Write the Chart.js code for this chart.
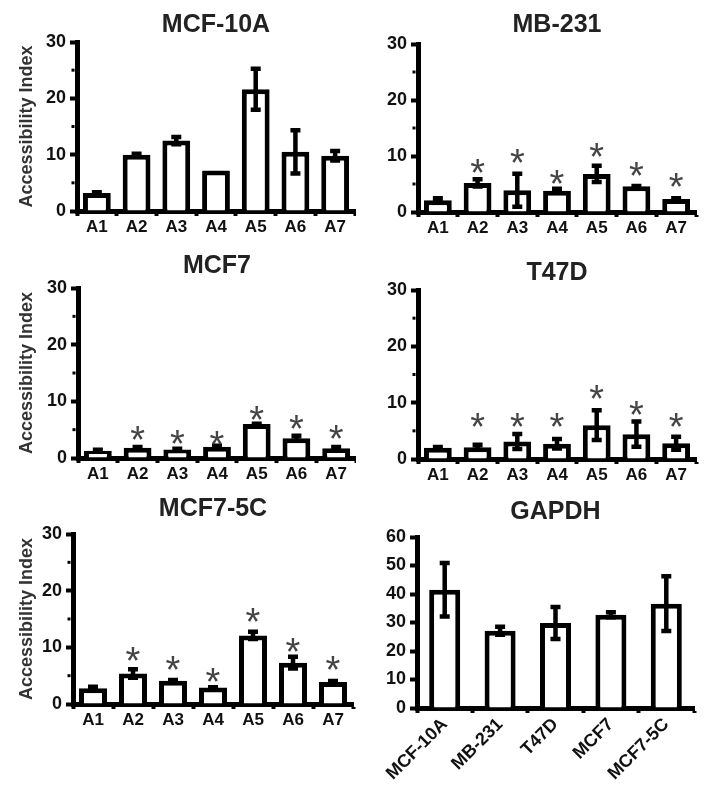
<!DOCTYPE html>
<html>
<head>
<meta charset="utf-8">
<script src="https://cdn.jsdelivr.net/npm/chart.js@4.4.0/dist/chart.umd.min.js"></script>
<style>
  body { margin: 0; background: #fff; }
  #wrap { position: relative; width: 712px; height: 797px; }
  #wrap canvas { position: absolute; }
</style>
</head>
<body>
<div id="wrap"></div>
<script>
// categories
const sites = ['A1', 'A2', 'A3', 'A4', 'A5', 'A6', 'A7'];
const cellLines = ['MCF-10A', 'MB-231', 'T47D', 'MCF7', 'MCF7-5C'];

// accessibility index, mean / error / asterisk height (null = no asterisk)
const mcf10aMean = [3.2, 10.0, 12.5, 7.2, 21.6, 10.5, 9.8];
const mcf10aErr  = [0.5, 0.2, 1.0, 0, 4.0, 4.2, 1.2];
const mcf10aStar = [null, null, null, null, null, null, null];

const mb231Mean = [2.1, 5.2, 3.9, 3.8, 6.8, 4.6, 2.3];
const mb231Err  = [0.7, 1.0, 3.3, 0.7, 1.8, 0.4, 0.2];
const mb231Star = [null, 8.3, 10.0, 6.2, 11.0, 7.7, 5.7];

const mcf7Mean = [1.3, 1.8, 1.5, 2.0, 6.0, 3.5, 1.7];
const mcf7Err  = [0.2, 0.5, 0.2, 0.2, 0.4, 0.8, 0.1];
const mcf7Star = [null, 4.5, 3.7, 3.6, 7.9, 6.4, 4.6];

const t47dMean = [2.0, 2.1, 3.1, 2.7, 6.0, 4.4, 2.8];
const t47dErr  = [0.5, 0.8, 1.7, 1.2, 3.0, 2.6, 1.5];
const t47dStar = [null, 7.0, 7.0, 7.0, 11.9, 9.1, 7.0];

const mcf75cMean = [2.8, 5.4, 4.1, 2.9, 12.1, 7.3, 3.9];
const mcf75cErr  = [0.6, 1.1, 0.5, 0.4, 1.0, 1.4, 0.5];
const mcf75cStar = [null, 8.9, 7.2, 5.1, 15.7, 10.4, 7.2];

const gapdhMean = [41.5, 27.1, 29.8, 32.7, 36.6];
const gapdhErr  = [10.1, 2.1, 6.3, 1.6, 10.3];

const siteMax = 30;
const gapdhMax = 60;

Chart.defaults.font.family = '"Liberation Sans", Arial, sans-serif';

// error bars, asterisks and short minor ticks on the y axis
function marks(mean, err, star) {
  return {
    id: 'marks',
    afterDatasetsDraw(chart) {
      const ctx = chart.ctx, y = chart.scales.y, bars = chart.getDatasetMeta(0).data;
      ctx.save();
      ctx.strokeStyle = '#000';
      ctx.lineWidth = 4.5;
      mean.forEach((m, i) => {
        if (!err[i]) return;
        const x = bars[i].x;
        const t = y.getPixelForValue(m + err[i]);
        const b = y.getPixelForValue(m - err[i]);
        ctx.beginPath();
        ctx.moveTo(x, t); ctx.lineTo(x, b);
        ctx.moveTo(x - 5, t + 2); ctx.lineTo(x + 5, t + 2);
        ctx.moveTo(x - 5, b - 2); ctx.lineTo(x + 5, b - 2);
        ctx.stroke();
      });
      if (star) {
        ctx.fillStyle = '#444';
        ctx.font = '38px "Liberation Sans", Arial, sans-serif';
        ctx.textAlign = 'center';
        ctx.textBaseline = 'alphabetic';
        const mt = ctx.measureText('*');
        const off = (mt.actualBoundingBoxAscent - mt.actualBoundingBoxDescent) / 2;
        star.forEach((s, i) => {
          if (s == null) return;
          ctx.fillText('*', bars[i].x, y.getPixelForValue(s) + off);
        });
      }
      // minor ticks
      ctx.lineWidth = 3;
      const edge = chart.chartArea.left - 2.5;
      y.ticks.forEach(tk => {
        if (tk.value % 10 === 0) return;
        const py = y.getPixelForValue(tk.value);
        ctx.beginPath();
        ctx.moveTo(edge - 3, py); ctx.lineTo(edge, py);
        ctx.stroke();
      });
      ctx.restore();
    }
  };
}

function panel(p) {
  const cv = document.createElement('canvas');
  cv.width = p.box.w; cv.height = p.box.h;
  cv.style.left = p.box.x + 'px'; cv.style.top = p.box.y + 'px';
  document.getElementById('wrap').appendChild(cv);

  const titleH = 25 * 1.2;
  const pTop = p.titleY - p.box.y - titleH / 2;
  const pBot = p.area.t - p.box.y - pTop - titleH;
  const yW = p.area.l - p.box.x;
  const xH = p.box.y + p.box.h - p.area.b;

  new Chart(cv, {
    type: 'bar',
    data: {
      labels: p.labels,
      datasets: [{
        data: p.mean,
        backgroundColor: '#fff',
        borderColor: '#000',
        borderWidth: 5,
        borderSkipped: 'start',
        barPercentage: p.barPct,
        categoryPercentage: 1
      }]
    },
    options: {
      responsive: false,
      animation: false,
      devicePixelRatio: 1,
      layout: { padding: { left: 0, top: 0, bottom: 0, right: p.box.x + p.box.w - p.area.r } },
      plugins: {
        legend: { display: false },
        tooltip: { enabled: false },
        title: {
          display: true,
          text: p.title,
          fullSize: false,
          color: '#222',
          font: { size: 25, weight: 'bold', lineHeight: 1.2 },
          padding: { top: pTop, bottom: pBot }
        }
      },
      scales: {
        x: {
          afterFit: s => { s.height = xH; },
          border: { width: 5, color: '#000' },
          grid: { drawOnChartArea: false, offset: true, tickLength: 5, tickWidth: 4, tickColor: '#000' },
          ticks: {
            padding: 1, color: '#111', autoSkip: false,
            maxRotation: p.rot, minRotation: p.rot,
            font: { size: p.rot ? 18 : 17, weight: 'bold' }
          }
        },
        y: {
          min: 0,
          max: p.yMax,
          afterFit: s => { s.width = yW; },
          border: { width: 5, color: '#000' },
          grid: {
            drawOnChartArea: false, tickLength: 7, tickWidth: 4,
            tickColor: c => (c.tick && c.tick.value % 10 === 0) ? '#000' : 'rgba(0,0,0,0)'
          },
          ticks: {
            stepSize: 5, padding: 4, color: '#111',
            font: { size: 18, weight: 'bold' },
            callback: v => (v % 10 === 0 ? v : '')
          },
          title: {
            display: p.yTitle,
            text: 'Accessibility Index',
            color: '#333',
            font: { size: 18, weight: 'bold', lineHeight: 1.2 },
            padding: { top: 16, bottom: 0 }
          }
        }
      }
    },
    plugins: [marks(p.mean, p.err, p.star)]
  });
}

panel({ box: { x: 0, y: 0, w: 356, h: 240 }, area: { l: 77, t: 42, r: 355, b: 211 }, titleY: 25,
  title: 'MCF-10A', labels: sites, mean: mcf10aMean, err: mcf10aErr, star: mcf10aStar,
  yMax: siteMax, yTitle: true, rot: 0, barPct: 0.7 });
panel({ box: { x: 356, y: 0, w: 356, h: 240 }, area: { l: 418, t: 44, r: 696, b: 212 }, titleY: 25,
  title: 'MB-231', labels: sites, mean: mb231Mean, err: mb231Err, star: mb231Star,
  yMax: siteMax, yTitle: false, rot: 0, barPct: 0.7 });
panel({ box: { x: 0, y: 240, w: 356, h: 240 }, area: { l: 78, t: 288, r: 356, b: 458 }, titleY: 266,
  title: 'MCF7', labels: sites, mean: mcf7Mean, err: mcf7Err, star: mcf7Star,
  yMax: siteMax, yTitle: true, rot: 0, barPct: 0.7 });
panel({ box: { x: 356, y: 240, w: 356, h: 240 }, area: { l: 418, t: 290, r: 696, b: 459 }, titleY: 273,
  title: 'T47D', labels: sites, mean: t47dMean, err: t47dErr, star: t47dStar,
  yMax: siteMax, yTitle: false, rot: 0, barPct: 0.7 });
panel({ box: { x: 0, y: 480, w: 356, h: 317 }, area: { l: 73, t: 534, r: 353, b: 704 }, titleY: 509,
  title: 'MCF7-5C', labels: sites, mean: mcf75cMean, err: mcf75cErr, star: mcf75cStar,
  yMax: siteMax, yTitle: true, rot: 0, barPct: 0.7 });
panel({ box: { x: 356, y: 480, w: 356, h: 317 }, area: { l: 417, t: 537, r: 694, b: 708 }, titleY: 512,
  title: 'GAPDH', labels: cellLines, mean: gapdhMean, err: gapdhErr, star: null,
  yMax: gapdhMax, yTitle: false, rot: 45, barPct: 0.56 });
</script>
</body>
</html>
